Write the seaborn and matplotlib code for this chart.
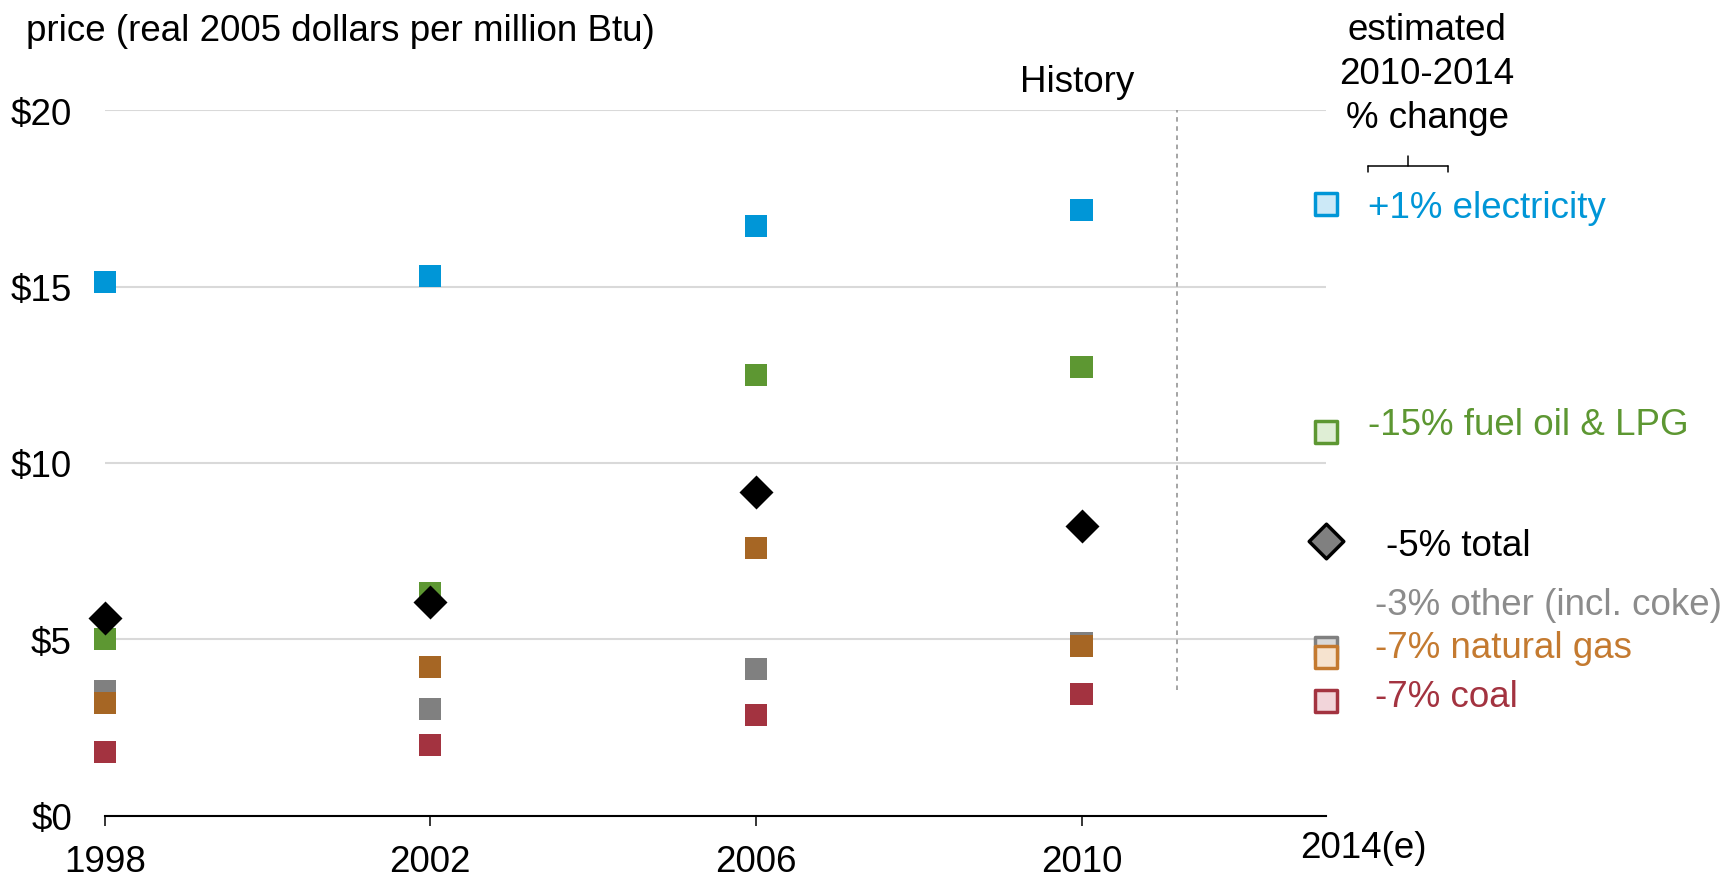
import numpy as np
import pandas as pd
import seaborn as sns
import matplotlib.pyplot as plt
from matplotlib.lines import Line2D

W, H = 1728, 879

years = [1998, 2002, 2006, 2010]
fuels = ["electricity", "fuel oil & LPG", "other (incl. coke)", "natural gas", "coal"]
electricity = [15.13, 15.31, 16.72, 17.17]
fuel_oil = [5.02, 6.31, 12.49, 12.72]
other = [3.53, 3.02, 4.16, 4.90]
natural_gas = [3.19, 4.21, 7.59, 4.82]
coal = [1.81, 2.01, 2.86, 3.45]
total = [5.59, 6.05, 9.18, 8.21]

# estimated 2014 values and 2010-2014 change, shown at the right edge
est_2014 = {"electricity": 17.33, "fuel oil & LPG": 10.88, "other (incl. coke)": 4.75,
            "natural gas": 4.49, "coal": 3.24, "total": 7.78}
pct_change = {"electricity": "+1%", "fuel oil & LPG": "-15%", "other (incl. coke)": "-3%",
              "natural gas": "-7%", "coal": "-7%", "total": "-5%"}

yticks = [0, 5, 10, 15, 20]
ytick_labels = ["$0", "$5", "$10", "$15", "$20"]

dark = {"electricity": "#0096d7", "fuel oil & LPG": "#5d9732", "other (incl. coke)": "#808080",
        "natural gas": "#a66624", "coal": "#a33340"}
light = {"electricity": "#cce9f7", "fuel oil & LPG": "#dfeed5", "other (incl. coke)": "#d9d9d9",
         "natural gas": "#f6e3cf", "coal": "#f2d5da"}
edge = {"electricity": "#0096d7", "fuel oil & LPG": "#5d9732", "other (incl. coke)": "#808080",
        "natural gas": "#c47a30", "coal": "#a33340"}
text_col = {"electricity": "#0096d7", "fuel oil & LPG": "#5d9732", "other (incl. coke)": "#8c8c8c",
            "natural gas": "#c47a30", "coal": "#a33340", "total": "black"}

sns.set_theme(style="white")
plt.rcParams['font.family'] = ['Liberation Sans', 'DejaVu Sans']
plt.rcParams['text.color'] = 'black'
FS = 26.5

df = pd.DataFrame({
    "year": years * len(fuels),
    "fuel": np.repeat(fuels, len(years)),
    "price": electricity + fuel_oil + other + natural_gas + coal,
})


def px(x, y):
    return x / W, 1 - y / H


fig = plt.figure(figsize=(W / 100, H / 100), dpi=100)
ax = fig.add_axes([104.7 / W, 1 - 816.7 / H, (1325.7 - 104.7) / W, (816.7 - 111.1) / H])

sns.scatterplot(data=df, x="year", y="price", hue="fuel", palette=dark, marker="s", s=251,
                linewidth=0, legend=False, ax=ax, clip_on=False, zorder=3)
sns.scatterplot(x=years, y=total, marker="D", s=300, color="black", linewidth=0,
                legend=False, ax=ax, clip_on=False, zorder=4)

x_end = 2013
for f in fuels:
    sns.scatterplot(x=[x_end], y=[est_2014[f]], marker="s", s=250, color=light[f],
                    edgecolor=edge[f], linewidth=2.5, legend=False, ax=ax, clip_on=False, zorder=5)
sns.scatterplot(x=[x_end], y=[est_2014["total"]], marker="D", s=310, color="#808080",
                edgecolor="black", linewidth=2.5, legend=False, ax=ax, clip_on=False, zorder=5)

ax.set_xlim(1998, 2013)
ax.set_ylim(0, 20)
ax.set_xticks(years)
ax.set_xticklabels([str(y) for y in years])
ax.set_yticks(yticks)
ax.set_yticklabels(ytick_labels)
ax.set_xlabel("")
ax.set_ylabel("")
ax.yaxis.grid(True, color="#d9d9d9", lw=1.5, zorder=0)
ax.xaxis.grid(False)
ax.set_axisbelow(True)
for s in ["top", "right", "left"]:
    ax.spines[s].set_visible(False)
ax.spines["bottom"].set_color("black")
ax.spines["bottom"].set_linewidth(1.5)
ax.spines["bottom"].set_zorder(2)
ax.tick_params(axis="x", length=7.2, width=1.1, direction="out", color="black",
               pad=13, labelsize=FS, labelcolor="black", bottom=True)
ax.tick_params(axis="y", length=0, pad=23.6, labelsize=FS, labelcolor="black")

# history / projection divider
ax.plot([2011.17, 2011.17], [3.55, 20], ls=(0, (3, 3)), color="#8c8c8c", lw=1.1, zorder=1)

# text
fig.text(*px(26, 41), "price (real 2005 dollars per million Btu)", fontsize=FS, ha="left", va="baseline")
fig.text(*px(1077.5, 91.7), "History", fontsize=FS, ha="center", va="baseline")
fig.text(*px(1363, 858.3), "2014(e)", fontsize=FS, ha="center", va="baseline")
for line, yb in zip(["estimated", "2010-2014", "% change"], [40, 83.5, 128]):
    fig.text(*px(1427, yb), line, fontsize=FS, ha="center", va="baseline")

# bracket under the header
bx0, bx1, bxm, by = 1367.7, 1447.7, 1407.7, 166.7
for xs, ys in [([bx0, bx1], [by, by]), ([bx0, bx0], [by, by + 6.5]),
               ([bx1, bx1], [by, by + 6.5]), ([bxm, bxm], [by, by - 9.5])]:
    fig.add_artist(Line2D([x / W for x in xs], [1 - y / H for y in ys], color="black", lw=1.1))

label_pos = {"electricity": (1367.6, 218.3), "fuel oil & LPG": (1368.3, 435),
             "total": (1386, 555.7), "other (incl. coke)": (1375, 615),
             "natural gas": (1375, 658.3), "coal": (1375, 707.3)}
for k, (lx, ly) in label_pos.items():
    fig.text(*px(lx, ly), f"{pct_change[k]} {k}", fontsize=FS, color=text_col[k],
             ha="left", va="baseline")

fig.savefig("out.png", dpi=100)
